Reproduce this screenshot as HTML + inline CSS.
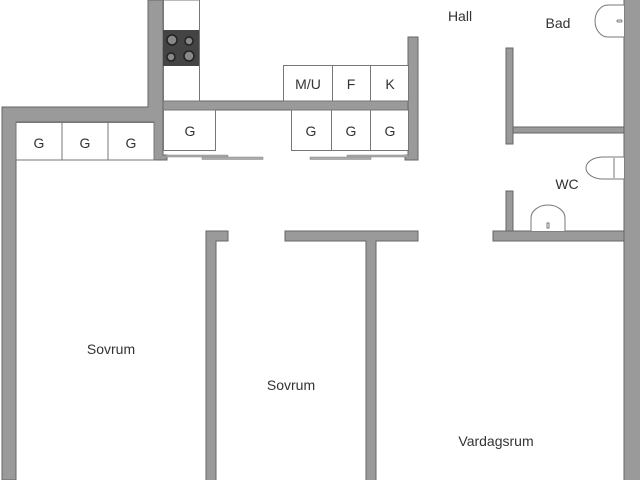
<!DOCTYPE html>
<html><head><meta charset="utf-8"><style>
html,body{margin:0;padding:0;background:#fff;}
svg{display:block}
text{font-family:"Liberation Sans",sans-serif;fill:#333;}
</style></head><body>
<svg width="640" height="480" viewBox="0 0 640 480" xmlns="http://www.w3.org/2000/svg">
<g fill="#9a9a9a" stroke="#666" stroke-width="1">
 <path d="M2,107 H148 V0 H163 V155 H167 V160 H154 V122 H16 V480 H2 Z"/>
 <rect x="163" y="101" width="255" height="9"/>
 <path d="M408,37 H418 V160 H405 V155 H408 Z"/>
 <rect x="624" y="-2" width="17" height="484"/>
 <rect x="506" y="48" width="7" height="96"/>
 <rect x="513" y="127" width="111" height="6"/>
 <rect x="506" y="191" width="7" height="41"/>
 <rect x="493" y="231" width="131" height="10"/>
 <path d="M206,231 H228 V241 H216 V482 H206 Z"/>
 <path d="M285,231 H418 V241 H376 V482 H366 V241 H285 Z"/>
</g>
<g fill="#fff" stroke="#777" stroke-width="1">
 <rect x="163.5" y="0" width="36" height="101"/>
 <rect x="283.5" y="65.5" width="49" height="35.5"/>
 <rect x="332.5" y="65.5" width="38" height="35.5"/>
 <rect x="370.5" y="65.5" width="38" height="35.5"/>
 <rect x="163.5" y="110" width="52" height="40.5"/>
 <rect x="291.5" y="110" width="40" height="40.5"/>
 <rect x="331.5" y="110" width="39" height="40.5"/>
 <rect x="370.5" y="110" width="38" height="40.5"/>
 <rect x="16" y="122.5" width="46" height="37.5"/>
 <rect x="62" y="122.5" width="46" height="37.5"/>
 <rect x="108" y="122.5" width="46" height="37.5"/>
</g>
<rect x="163" y="30" width="36" height="36" fill="#444"/>
<g fill="#888" stroke="#222" stroke-width="1.5">
 <circle cx="172" cy="40" r="5"/><circle cx="189" cy="41" r="4"/>
 <circle cx="171" cy="57" r="4"/><circle cx="189" cy="56" r="5"/>
</g>
<g fill="#aaa" stroke="#888" stroke-width="0.5">
 <rect x="166" y="155" width="62" height="2"/>
 <rect x="202" y="157" width="61" height="2.5"/>
 <rect x="347" y="155" width="61" height="2"/>
 <rect x="310" y="157" width="61" height="2.5"/>
</g>
<g fill="#fff" stroke="#777" stroke-width="1">
 <path d="M624,5 H608 A13,16 0 0 0 608,37 H624"/>
 <rect x="617" y="20" width="5" height="2" rx="1"/>
 <path d="M624,157 H603 A17,11 0 0 0 603,179 H624"/>
 <line x1="614" y1="158" x2="614" y2="178"/>
 <path d="M531,231 V218 A17,13 0 0 1 565,218 V231"/>
 <rect x="547" y="223" width="2" height="5"/>
</g>
<g font-size="14" text-anchor="middle">
 <text x="190" y="136">G</text>
 <text x="308" y="89">M/U</text>
 <text x="351" y="89">F</text>
 <text x="390" y="89">K</text>
 <text x="311" y="136">G</text>
 <text x="351" y="136">G</text>
 <text x="390" y="136">G</text>
 <text x="39" y="148">G</text>
 <text x="85" y="148">G</text>
 <text x="131" y="148">G</text>
 <text x="460" y="21">Hall</text>
 <text x="558" y="28">Bad</text>
 <text x="567" y="189">WC</text>
 <text x="111" y="354">Sovrum</text>
 <text x="291" y="390">Sovrum</text>
 <text x="496" y="446">Vardagsrum</text>
</g>
</svg>
</body></html>
